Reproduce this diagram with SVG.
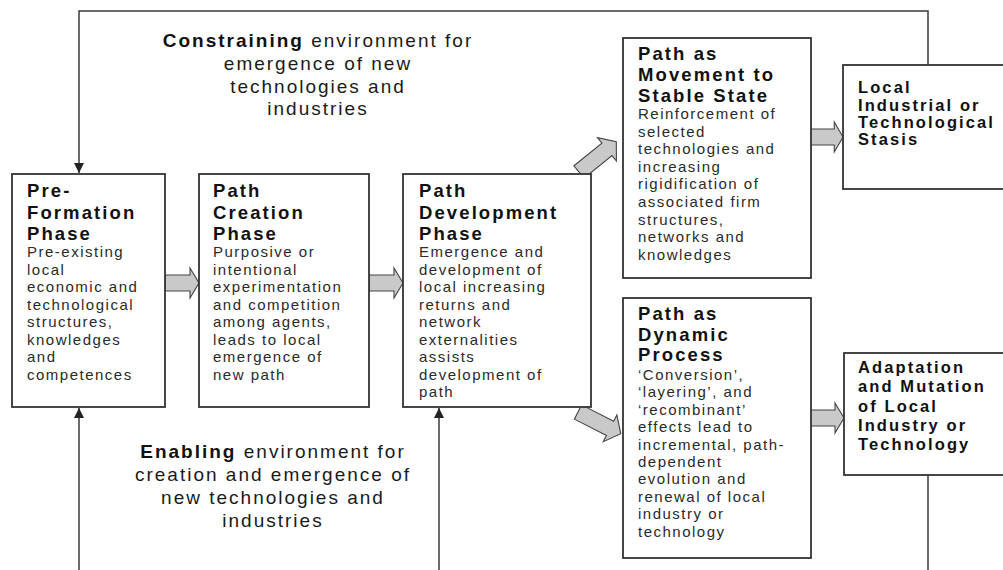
<svg xmlns="http://www.w3.org/2000/svg" xmlns:xlink="http://www.w3.org/1999/xlink" width="1003" height="570" viewBox="0 0 1003 570">
<style>
.box{fill:#fff;stroke:#333;stroke-width:1.8}
.ln{fill:none;stroke:#3a3a3a;stroke-width:1.5}
.ba{fill:#c9c9c9;stroke:#444;stroke-width:1.1;stroke-linejoin:miter}
.t{font-family:"Liberation Sans",Arial,sans-serif;font-weight:bold;font-size:18.5px;letter-spacing:2.1px;fill:#111}
.s{font-family:"Liberation Sans",Arial,sans-serif;font-weight:bold;font-size:16.5px;letter-spacing:2.1px;fill:#111}
.b{font-family:"Liberation Sans",Arial,sans-serif;font-size:15px;letter-spacing:1.5px;fill:#2a2a2a}
.e{font-family:"Liberation Sans",Arial,sans-serif;font-size:19px;letter-spacing:2px;fill:#1a1a1a;text-anchor:middle}
.e tspan.k{font-weight:bold;fill:#111}
</style>
<defs>
<marker id="ah" viewBox="0 0 10 10" refX="10" refY="5" markerWidth="10" markerHeight="10" markerUnits="userSpaceOnUse" orient="auto">
<path d="M0,0 L10,5 L0,10 Z" fill="#222"/>
</marker>
<path id="bh" d="M0,-8 H25 V-15 L34,0 L25,15 V8 H0 Z"/>
<path id="bd" d="M0,-8 H36 V-15 L48,0 L36,15 V8 H0 Z"/>
</defs>
<rect width="1003" height="570" fill="#fff"/>

<g id="connectors">
<path class="ln" d="M928,65 V11 H79 V173" marker-end="url(#ah)"/>
<path class="ln" d="M79,575 V408" marker-end="url(#ah)"/>
<path class="ln" d="M439,575 V408" marker-end="url(#ah)"/>
<path class="ln" d="M928,475 V575"/>
<use href="#bh" class="ba" transform="translate(165,283)"/>
<use href="#bh" class="ba" transform="translate(369,283)"/>
<use href="#bh" class="ba" transform="translate(810,137) scale(0.97,1)"/>
<use href="#bh" class="ba" transform="translate(810,418) scale(1,1)"/>
<use href="#bd" class="ba" transform="translate(579,172) rotate(-39)"/>
<use href="#bd" class="ba" transform="translate(578,412) rotate(27)"/>
</g>

<g id="constraining">
<text class="e" x="318" y="47"><tspan class="k">Constraining</tspan> environment for</text>
<text class="e" x="318" y="70">emergence of new</text>
<text class="e" x="318" y="93">technologies and</text>
<text class="e" x="318" y="115">industries</text>
</g>

<g id="enabling">
<text class="e" x="273" y="458"><tspan class="k">Enabling</tspan> environment for</text>
<text class="e" x="273" y="481">creation and emergence of</text>
<text class="e" x="273" y="504">new technologies and</text>
<text class="e" x="273" y="527">industries</text>
</g>

<g id="pre-formation">
<rect class="box" x="12" y="174" width="153" height="233"/>
<text class="t" x="27" y="197">Pre-</text>
<text class="t" x="27" y="219">Formation</text>
<text class="t" x="27" y="240">Phase</text>
<text class="b"><tspan x="27" y="257">Pre-existing</tspan><tspan x="27" y="274.5">local</tspan><tspan x="27" y="292">economic and</tspan><tspan x="27" y="309.5">technological</tspan><tspan x="27" y="327">structures,</tspan><tspan x="27" y="344.5">knowledges</tspan><tspan x="27" y="362">and</tspan><tspan x="27" y="379.5">competences</tspan></text>
</g>

<g id="path-creation">
<rect class="box" x="199" y="174" width="170" height="233"/>
<text class="t" x="213" y="197">Path</text>
<text class="t" x="213" y="219">Creation</text>
<text class="t" x="213" y="240">Phase</text>
<text class="b"><tspan x="213" y="257">Purposive or</tspan><tspan x="213" y="274.5">intentional</tspan><tspan x="213" y="292">experimentation</tspan><tspan x="213" y="309.5">and competition</tspan><tspan x="213" y="327">among agents,</tspan><tspan x="213" y="344.5">leads to local</tspan><tspan x="213" y="362">emergence of</tspan><tspan x="213" y="379.5">new path</tspan></text>
</g>

<g id="path-development">
<rect class="box" x="403" y="174" width="188" height="233"/>
<text class="t" x="419" y="197">Path</text>
<text class="t" x="419" y="219">Development</text>
<text class="t" x="419" y="240">Phase</text>
<text class="b"><tspan x="419" y="257">Emergence and</tspan><tspan x="419" y="274.5">development of</tspan><tspan x="419" y="292">local increasing</tspan><tspan x="419" y="309.5">returns and</tspan><tspan x="419" y="327">network</tspan><tspan x="419" y="344.5">externalities</tspan><tspan x="419" y="362">assists</tspan><tspan x="419" y="379.5">development of</tspan><tspan x="419" y="397">path</tspan></text>
</g>

<g id="path-movement">
<rect class="box" x="623" y="38" width="188" height="240"/>
<text class="t" x="638" y="60">Path as</text>
<text class="t" x="638" y="81">Movement to</text>
<text class="t" x="638" y="102">Stable State</text>
<text class="b"><tspan x="638" y="119">Reinforcement of</tspan><tspan x="638" y="136.6">selected</tspan><tspan x="638" y="154.2">technologies and</tspan><tspan x="638" y="171.8">increasing</tspan><tspan x="638" y="189.4">rigidification of</tspan><tspan x="638" y="207">associated firm</tspan><tspan x="638" y="224.6">structures,</tspan><tspan x="638" y="242.2">networks and</tspan><tspan x="638" y="259.8">knowledges</tspan></text>
</g>

<g id="local-stasis">
<rect class="box" x="843" y="65" width="170" height="124"/>
<text class="s" x="858" y="93">Local</text>
<text class="s" x="858" y="111">Industrial or</text>
<text class="s" x="858" y="128">Technological</text>
<text class="s" x="858" y="145">Stasis</text>
</g>

<g id="path-dynamic">
<rect class="box" x="623" y="298" width="188" height="260"/>
<text class="t" x="638" y="320">Path as</text>
<text class="t" x="638" y="341">Dynamic</text>
<text class="t" x="638" y="361">Process</text>
<text class="b"><tspan x="638" y="380">‘Conversion’,</tspan><tspan x="638" y="397.4">‘layering’, and</tspan><tspan x="638" y="414.8">‘recombinant’</tspan><tspan x="638" y="432.2">effects lead to</tspan><tspan x="638" y="449.6">incremental, path-</tspan><tspan x="638" y="467">dependent</tspan><tspan x="638" y="484.4">evolution and</tspan><tspan x="638" y="501.8">renewal of local</tspan><tspan x="638" y="519.2">industry or</tspan><tspan x="638" y="536.6">technology</tspan></text>
</g>

<g id="adaptation">
<rect class="box" x="844" y="353" width="170" height="122"/>
<text class="s" x="858" y="373">Adaptation</text>
<text class="s" x="858" y="392">and Mutation</text>
<text class="s" x="858" y="412">of Local</text>
<text class="s" x="858" y="431">Industry or</text>
<text class="s" x="858" y="450">Technology</text>
</g>
</svg>
